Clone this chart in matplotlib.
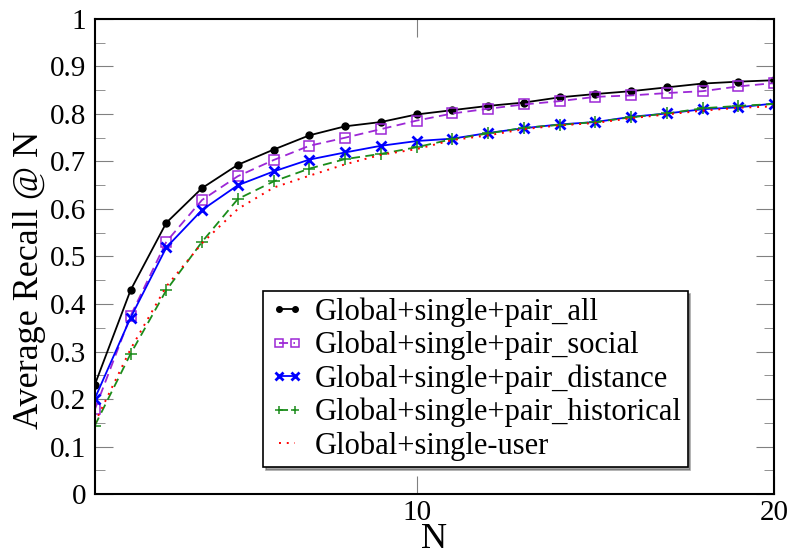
from matplotlib import pyplot as plt
from matplotlib.ticker import MultipleLocator

plt.rcParams['font.family'] = ['Liberation Serif', 'DejaVu Serif']

n = list(range(1, 21))

recall_all = [0.230, 0.429, 0.571, 0.644, 0.693, 0.725, 0.755, 0.774, 0.783, 0.799,
              0.808, 0.817, 0.824, 0.835, 0.842, 0.848, 0.856, 0.864, 0.868, 0.871]
recall_social = [0.178, 0.375, 0.531, 0.619, 0.669, 0.703, 0.733, 0.750, 0.768, 0.786,
                 0.801, 0.811, 0.820, 0.827, 0.836, 0.839, 0.844, 0.848, 0.858, 0.865]
recall_distance = [0.201, 0.371, 0.519, 0.598, 0.650, 0.679, 0.704, 0.719, 0.733, 0.743,
                   0.748, 0.760, 0.770, 0.778, 0.783, 0.794, 0.801, 0.810, 0.814, 0.822]
recall_historical = [0.144, 0.295, 0.429, 0.531, 0.621, 0.658, 0.685, 0.705, 0.716, 0.730,
                     0.747, 0.759, 0.771, 0.777, 0.783, 0.793, 0.801, 0.812, 0.817, 0.821]
recall_user = [0.150, 0.305, 0.437, 0.528, 0.600, 0.645, 0.670, 0.694, 0.714, 0.726,
               0.745, 0.755, 0.768, 0.776, 0.781, 0.791, 0.799, 0.807, 0.813, 0.816]

labels = ['Global+single+pair_all', 'Global+single+pair_social',
          'Global+single+pair_distance', 'Global+single+pair_historical',
          'Global+single-user']
ytick_labels = ['0', '0.1', '0.2', '0.3', '0.4', '0.5', '0.6', '0.7', '0.8', '0.9', '1']

fig = plt.figure(figsize=(7.9, 5.57), dpi=100)
ax = fig.add_axes([0.120, 0.113, 0.860, 0.853])

ax.plot(n, recall_all, color='black', lw=1.3, marker='o', ms=5, label=labels[0])
ax.plot(n, recall_social, color='#9c27d6', lw=1.3, ls=(0, (5, 3)), marker='s', ms=6.5,
        mfc='none', mew=1.1, label=labels[1])
ax.plot(n, recall_distance, color='blue', lw=1.3, marker='x', ms=7, mew=2.0, label=labels[2])
ax.plot(n, recall_historical, color='#1a8c1a', lw=1.3, ls=(0, (5, 3)), marker='+', ms=8,
        mew=1.1, label=labels[3])
ax.plot(n, recall_user, color='red', lw=1.4, ls=(0, (1, 3)), label=labels[4])

ax.set_xlim(1, 20)
ax.set_ylim(0, 1)
ax.set_xticks([10, 20])
ax.set_yticks([i / 10 for i in range(11)])
ax.set_yticklabels(ytick_labels, fontsize=21)
ax.yaxis.set_minor_locator(MultipleLocator(0.05))
ax.tick_params(axis='x', labelsize=21, direction='in', length=13, color='gray',
               top=True, pad=4)
ax.tick_params(axis='y', which='major', direction='in', length=13, color='gray',
               right=True, pad=6)
ax.tick_params(axis='y', which='minor', direction='in', length=7, color='gray', right=True)
for s in ax.spines.values():
    s.set_linewidth(1.5)

ax.set_xlabel('N', fontsize=26, labelpad=-2)
ax.set_ylabel('Average Recall @ N', fontsize=26, labelpad=3)
ax.yaxis.label.set_y(0.45)

leg = ax.legend(loc='upper left', bbox_to_anchor=(0.248, 0.427),
                fontsize=22, numpoints=2, handlelength=1.15, handletextpad=0.33,
                borderpad=0.2, labelspacing=0.13, borderaxespad=0, fancybox=False,
                shadow=True, framealpha=1, markerscale=0.8)
leg.get_frame().set_edgecolor('black')
leg.get_frame().set_linewidth(1.2)

fig.savefig('out.png', dpi=100)
